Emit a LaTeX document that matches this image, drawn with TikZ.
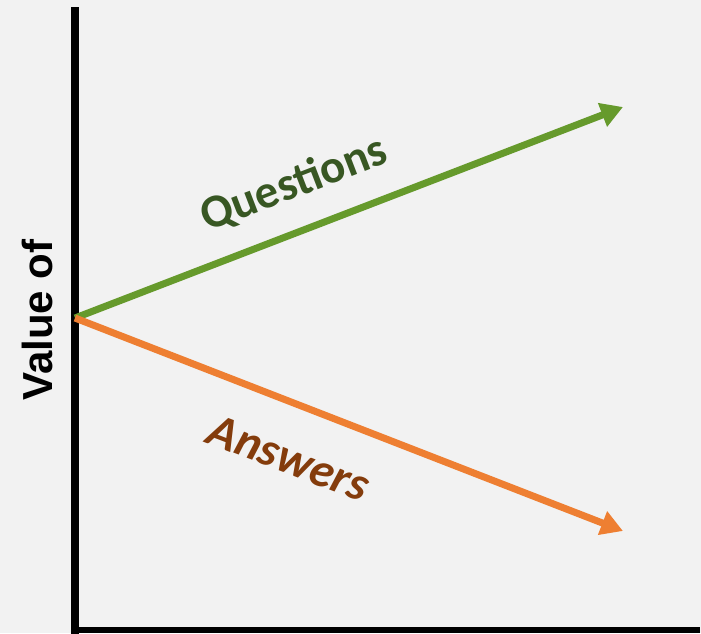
\documentclass[tikz,border=0pt]{standalone}
\usepackage{fontspec}
\setmainfont{Carlito}
\newfontfamily\arialfont{Liberation Sans}
\usetikzlibrary{arrows.meta}
\definecolor{bg}{HTML}{F2F2F2}
\definecolor{qline}{HTML}{669A2C}
\definecolor{qtext}{HTML}{385723}
\definecolor{aline}{HTML}{EE7F32}
\definecolor{atext}{HTML}{843C0C}
\tikzset{
  axisline/.style={line width=8pt, black},
  valarrow/.style={line width=7pt, -{Triangle[length=22pt,width=24pt]}},
  lbl/.style={inner sep=0pt}
}
\begin{document}
\begin{tikzpicture}[x=1pt,y=-1pt]
\useasboundingbox[fill=bg] (0,0) rectangle (701,633);
\coordinate (top) at (75,7);
\coordinate (bottom) at (75,634);
\coordinate (corner) at (71,630);
\coordinate (right) at (700,630);
\coordinate (O) at (75,318);
\coordinate (Qtip) at (623,107);
\coordinate (Atip) at (623,531);
\draw[axisline] (top) -- (bottom);
\draw[black, line width=6pt] (corner) -- (right);
\draw[valarrow, qline] (O) -- (Qtip);
\draw[valarrow, aline] (O) -- (Atip);
\node[lbl, qtext, rotate=21, font=\fontsize{47}{52}\selectfont\bfseries] (q) at (294,184) {Questions};
\node[lbl, atext, rotate=-21, font=\fontsize{48}{53}\selectfont\bfseries\itshape] (a) at (289,458) {Answers};
\node[lbl, rotate=90, font=\arialfont\fontsize{42}{47}\selectfont\bfseries] (v) at (37,320) {Value of};
\end{tikzpicture}
\end{document}
